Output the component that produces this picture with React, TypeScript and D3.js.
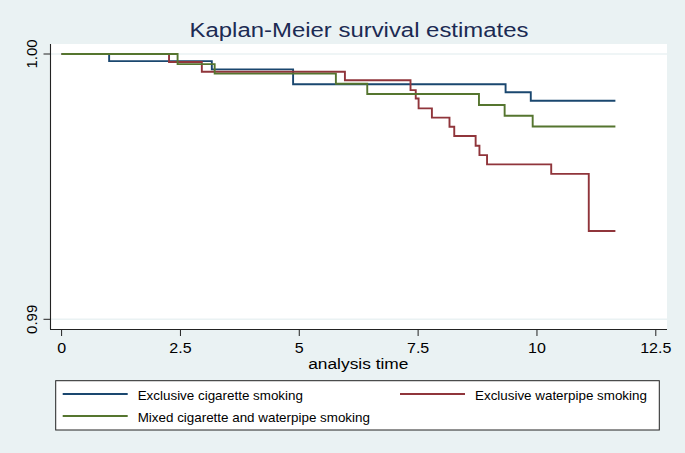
import React from "react";
import * as d3 from "d3";

const xTicks = [0, 2.5, 5, 7.5, 10, 12.5];
const xTickLabels = ["0", "2.5", "5", "7.5", "10", "12.5"];
const yTicks = [0.99, 1.0];
const yTickLabels = ["0.99", "1.00"];
const endTime = 11.65;

const cigTimes = [0, 1.0, 3.16, 4.87, 9.34, 9.87];
const cigSurv = [1, 0.99973, 0.99942, 0.99886, 0.99856, 0.99824];

const wpTimes = [0, 2.26, 2.95, 5.96, 7.34, 7.45, 7.51, 7.79, 8.16, 8.26, 8.71, 8.79, 8.95, 10.3, 11.09];
const wpSurv = [1, 0.9997, 0.99933, 0.99901, 0.99864, 0.99832, 0.99795, 0.9976, 0.99726, 0.99691, 0.99654, 0.99619, 0.99584, 0.99548, 0.99333];

const mixTimes = [0, 2.44, 3.22, 5.77, 6.43, 8.78, 9.32, 9.91];
const mixSurv = [1, 0.99962, 0.99926, 0.99888, 0.99849, 0.99808, 0.99767, 0.99727];

const seriesNames = [
  "Exclusive cigarette smoking",
  "Exclusive waterpipe smoking",
  "Mixed cigarette and waterpipe smoking",
];
const seriesColors = ["#1a476f", "#90353b", "#55752f"];

const W = 685;
const H = 453;
const BG = "#eaf2f3";
const FONT = "'Liberation Sans', Arial, Helvetica, sans-serif";

export default function App() {
  const plotL = 51, plotR = 667, plotT = 44, plotB = 329;
  const x = d3.scaleLinear().domain([0, 12.5]).range([61.6, 655.8]);
  const y = d3.scaleLinear().domain([0.99, 1.0]).range([319.3, 54]);

  const mk = (t: number[], s: number[]) => {
    const pts: [number, number][] = t.map((v, i) => [v, s[i]]);
    pts.push([endTime, s[s.length - 1]]);
    return pts;
  };
  const series = [mk(cigTimes, cigSurv), mk(wpTimes, wpSurv), mk(mixTimes, mixSurv)];
  const line = d3
    .line<[number, number]>()
    .x((d) => x(d[0]))
    .y((d) => y(d[1]))
    .curve(d3.curveStepAfter);

  const legendItems = [
    { i: 0, lx: 62.7, ly: 394 },
    { i: 1, lx: 400, ly: 394 },
    { i: 2, lx: 62.7, ly: 416 },
  ];

  return (
    <svg width={W} height={H} style={{ display: "block", position: "absolute", left: 0, top: 0 }} fontFamily={FONT}>
      <rect x={0} y={0} width={W} height={H} fill={BG} />
      <rect x={plotL} y={plotT} width={plotR - plotL} height={plotB - plotT} fill="#ffffff" />
      {yTicks.map((v) => (
        <line key={"g" + v} x1={plotL} x2={plotR} y1={y(v)} y2={y(v)} stroke={BG} strokeWidth={1.5} />
      ))}
      {series.map((pts, i) => (
        <path key={i} d={line(pts) || ""} fill="none" stroke={seriesColors[i]} strokeWidth={1.9} />
      ))}
      {/* axes */}
      <line x1={50.5} x2={50.5} y1={plotT} y2={plotB + 0.5} stroke="#222" strokeWidth={1.1} />
      <line x1={50} x2={plotR} y1={329.5} y2={329.5} stroke="#222" strokeWidth={1.1} />
      {yTicks.map((v, i) => (
        <g key={"y" + v}>
          <line x1={43.5} x2={50.5} y1={y(v)} y2={y(v)} stroke="#222" strokeWidth={1} />
          <text
            transform={`translate(36.8,${y(v)}) rotate(-90)`}
            textAnchor="middle"
            fontSize={15}
            fill="#000"
          >
            {yTickLabels[i]}
          </text>
        </g>
      ))}
      {xTicks.map((v, i) => (
        <g key={"x" + v}>
          <line x1={x(v)} x2={x(v)} y1={329.5} y2={336} stroke="#222" strokeWidth={1} />
          <text
            transform={`translate(${x(v)},353.3) scale(1.07,1)`}
            textAnchor="middle"
            fontSize={15}
            fill="#000"
          >
            {xTickLabels[i]}
          </text>
        </g>
      ))}
      <text transform="translate(358.3,369.3) scale(1.12,1)" textAnchor="middle" fontSize={15.5} fill="#000">
        analysis time
      </text>
      <text transform="translate(359,37.3) scale(1.15,1)" textAnchor="middle" fontSize={20.8} fill="#1c2b53">
        Kaplan-Meier survival estimates
      </text>
      {/* legend */}
      <rect x={55.7} y={380.7} width={659.3 - 55.7} height={430 - 380.7} fill="#ffffff" stroke="#222" strokeWidth={1} />
      {legendItems.map((it) => (
        <g key={"l" + it.i}>
          <line x1={it.lx} x2={it.lx + 65} y1={it.ly} y2={it.ly} stroke={seriesColors[it.i]} strokeWidth={1.8} />
          <text x={it.lx + 75} y={it.ly + 6} fontSize={13.4} fill="#000">
            {seriesNames[it.i]}
          </text>
        </g>
      ))}
    </svg>
  );
}
